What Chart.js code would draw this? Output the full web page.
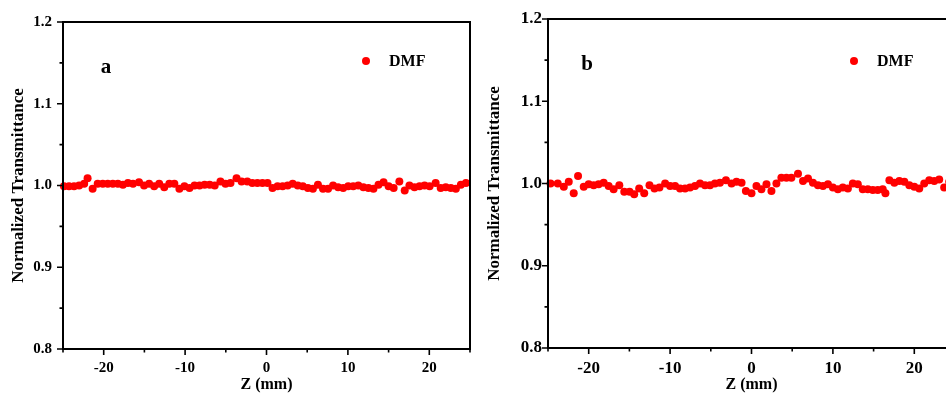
<!DOCTYPE html>
<html>
<head>
<meta charset="utf-8">
<script src="https://cdn.jsdelivr.net/npm/chart.js@4/dist/chart.umd.min.js"></script>
<style>
  html, body { margin: 0; padding: 0; background: #fff; width: 946px; height: 394px; overflow: hidden; position: relative; }
  canvas { position: absolute; top: 0; }
</style>
</head>
<body>
<canvas id="panelA" width="480" height="394" style="left:0px"></canvas>
<canvas id="panelB" width="490" height="394" style="left:477px"></canvas>
<script>
// ── Données ──────────────────────────────────────────────────────────────────
const zA = [-24.88,-24.26,-23.64,-23.02,-22.40,-21.98,-21.36,-20.74,-20.12,-19.50,
  -18.88,-18.26,-17.64,-17.02,-16.40,-15.66,-15.04,-14.42,-13.80,-13.18,
  -12.56,-11.94,-11.32,-10.70,-10.08,-9.46,-8.84,-8.22,-7.60,-6.98,
  -6.36,-5.66,-5.04,-4.42,-3.68,-3.06,-2.36,-1.74,-1.12,-0.50,
  0.12,0.74,1.36,1.98,2.60,3.22,3.84,4.46,5.08,5.70,
  6.32,6.94,7.56,8.18,8.80,9.42,10.04,10.66,11.28,11.90,
  12.52,13.14,13.76,14.38,15.00,15.62,16.32,16.98,17.56,18.18,
  18.80,19.42,20.04,20.78,21.40,22.02,22.64,23.26,23.88,24.50];
const tA = [0.999,0.999,0.999,1.000,1.002,1.009,0.996,1.002,1.002,1.002,
  1.002,1.002,1.001,1.003,1.002,1.004,1.000,1.002,0.999,1.002,
  0.998,1.002,1.002,0.996,0.999,0.997,1.000,1.000,1.001,1.001,
  1.000,1.005,1.002,1.003,1.009,1.005,1.005,1.003,1.003,1.003,
  1.003,0.997,0.999,0.999,1.000,1.002,1.000,0.999,0.997,0.996,
  1.001,0.996,0.996,1.000,0.998,0.997,0.999,0.999,1.000,0.998,
  0.997,0.996,1.001,1.004,0.999,0.997,1.005,0.994,1.000,0.998,
  0.999,1.000,0.999,1.003,0.997,0.998,0.997,0.996,1.001,1.003];

const zB = [-24.69,-23.80,-23.06,-22.45,-21.84,-21.31,-20.61,-20.00,-19.39,-18.78,
  -18.16,-17.55,-16.94,-16.24,-15.63,-14.98,-14.41,-13.80,-13.18,-12.53,
  -11.92,-11.31,-10.61,-10.00,-9.39,-8.78,-8.16,-7.55,-6.94,-6.33,
  -5.71,-5.10,-4.49,-3.88,-3.14,-2.45,-1.84,-1.22,-0.69,0.00,
  0.61,1.22,1.84,2.45,3.06,3.67,4.29,4.90,5.71,6.33,
  6.94,7.55,8.16,8.78,9.39,10.00,10.61,11.22,11.84,12.45,
  13.06,13.67,14.29,14.90,15.51,16.12,16.45,16.94,17.55,18.16,
  18.78,19.39,20.00,20.61,21.22,21.84,22.45,23.06,23.67,24.29];
const tB = [1.000,1.000,0.996,1.002,0.988,1.009,0.996,0.999,0.998,0.999,
  1.001,0.997,0.993,0.998,0.990,0.990,0.987,0.994,0.988,0.998,
  0.994,0.995,1.000,0.997,0.997,0.994,0.994,0.995,0.997,1.000,
  0.998,0.998,1.000,1.001,1.004,1.000,1.002,1.001,0.991,0.988,
  0.997,0.993,0.999,0.991,1.000,1.007,1.007,1.007,1.012,1.003,
  1.006,1.001,0.998,0.997,0.999,0.995,0.993,0.995,0.994,1.000,
  0.999,0.993,0.993,0.992,0.992,0.993,0.988,1.004,1.001,1.003,
  1.002,0.998,0.996,0.994,1.000,1.004,1.003,1.005,0.995,1.002];

const X_MIN = -25, X_MAX = 25, X_STEP = 5;
const Y_MIN = 0.8, Y_MAX = 1.2, Y_STEP = 0.05;
const SERIES = "DMF";
const X_TITLE = "Z (mm)";
const Y_TITLE = "Normalized Transmittance";

const RED = "#FF0000";
const FONT = "'Liberation Serif', 'Times New Roman', serif";

// ── Cadre, graduations, lettre et légende ───────────────────────────────────
const framePlugin = {
  id: 'frame',
  afterDraw(chart, args, o) {
    const { ctx, chartArea: a, scales } = chart;
    ctx.save();
    ctx.strokeStyle = '#000';
    ctx.lineWidth = 2;
    ctx.strokeRect(a.left, a.top, a.right - a.left, a.bottom - a.top);

    ctx.lineWidth = 1.6;
    ctx.beginPath();
    scales.x.ticks.forEach(t => {
      const px = scales.x.getPixelForValue(t.value);
      const len = Math.round(t.value) % 10 === 0 ? 6 : 3.5;
      ctx.moveTo(px, a.bottom);
      ctx.lineTo(px, a.bottom + len);
    });
    scales.y.ticks.forEach(t => {
      const py = scales.y.getPixelForValue(t.value);
      const len = Math.round(t.value * 100) % 10 === 0 ? 6 : 3.5;
      ctx.moveTo(a.left, py);
      ctx.lineTo(a.left - len, py);
    });
    ctx.stroke();

    // lettre du panneau
    ctx.fillStyle = '#000';
    ctx.font = `bold 21px ${FONT}`;
    ctx.textAlign = 'center';
    ctx.textBaseline = 'middle';
    ctx.fillText(o.letter, a.left + o.letterDx, a.top + o.letterDy);

    // légende
    ctx.fillStyle = RED;
    ctx.beginPath();
    ctx.arc(a.left + o.legDx, a.top + o.legDy, 4, 0, Math.PI * 2);
    ctx.fill();
    ctx.fillStyle = '#000';
    ctx.font = `bold 16px ${FONT}`;
    ctx.textAlign = 'left';
    ctx.fillText(SERIES, a.left + o.legDx + 23, a.top + o.legDy + 1);
    ctx.restore();
  }
};

function makePanel(id, zs, ts, p) {
  const pts = zs.map((z, i) => ({ x: z, y: ts[i] }));
  return new Chart(document.getElementById(id), {
    type: 'scatter',
    data: {
      datasets: [{
        label: SERIES,
        data: pts,
        pointRadius: 4,
        pointHoverRadius: 4,
        pointBackgroundColor: RED,
        pointBorderWidth: 0,
        borderColor: RED,
        clip: 5,
      }],
    },
    options: {
      responsive: false,
      devicePixelRatio: 1,
      animation: false,
      events: [],
      layout: { padding: { left: 0, top: p.top, right: p.right, bottom: 0 } },
      plugins: {
        legend: { display: false },
        tooltip: { enabled: false },
        frame: p.frame,
      },
      scales: {
        x: {
          type: 'linear',
          min: X_MIN, max: X_MAX,
          grid: { display: false, drawTicks: false },
          border: { display: false },
          afterFit: s => { s.height = p.xHeight; },
          ticks: {
            stepSize: X_STEP,
            autoSkip: false,
            maxRotation: 0,
            padding: p.xPad,
            color: '#000',
            font: { family: FONT, size: p.tickSize, weight: 'bold' },
            callback: v => (Math.round(v) % 10 === 0 ? String(v) : ''),
          },
          title: {
            display: true,
            text: X_TITLE,
            color: '#000',
            font: { family: FONT, size: 16, weight: 'bold', lineHeight: 1.2 },
            padding: { top: 0, bottom: 0 },
          },
        },
        y: {
          type: 'linear',
          min: Y_MIN, max: Y_MAX,
          grid: { display: false, drawTicks: false },
          border: { display: false },
          afterFit: s => { s.width = p.yWidth; },
          ticks: {
            stepSize: Y_STEP,
            autoSkip: false,
            padding: p.yPad,
            color: '#000',
            font: { family: FONT, size: p.tickSize, weight: 'bold' },
            callback: v => (Math.round(v * 100) % 10 === 0 ? v.toFixed(1) : ''),
          },
          title: {
            display: true,
            text: Y_TITLE,
            color: '#000',
            font: { family: FONT, size: 17, weight: 'bold', lineHeight: 1.2 },
            padding: { top: p.yTitlePad, bottom: 0 },
          },
        },
      },
    },
    plugins: [framePlugin],
  });
}

makePanel('panelA', zA, tA, {
  top: 22, right: 10, xHeight: 45, yWidth: 63, xPad: 10, yPad: 11, tickSize: 15, yTitlePad: 8,
  frame: { letter: 'a', letterDx: 43, letterDy: 46, legDx: 303, legDy: 39 },
});
makePanel('panelB', zB, tB, {
  top: 19, right: 12, xHeight: 46, yWidth: 71, xPad: 10, yPad: 6, tickSize: 17, yTitlePad: 7,
  frame: { letter: 'b', letterDx: 39, letterDy: 46, legDx: 306, legDy: 42 },
});
</script>
</body>
</html>
